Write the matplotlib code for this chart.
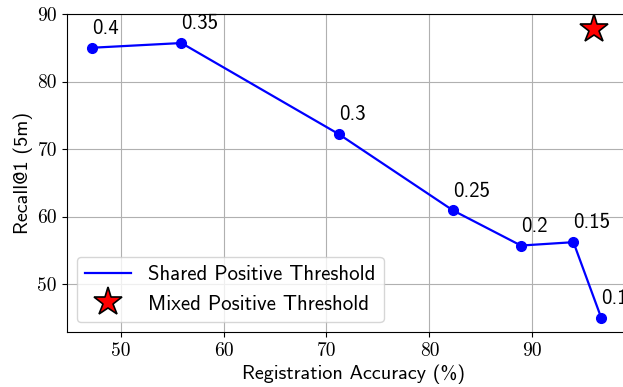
import matplotlib
matplotlib.use("Agg")
import matplotlib.pyplot as plt
from matplotlib.lines import Line2D

reg_acc = [47.2, 55.9, 71.2, 82.3, 88.9, 94.0, 96.7]
recall = [85.0, 85.7, 72.2, 60.9, 55.7, 56.2, 45.0]
thresholds = ["0.4", "0.35", "0.3", "0.25", "0.2", "0.15", "0.1"]
mixed_acc = [96.0]
mixed_recall = [87.8]

fig = plt.figure(figsize=(6.23, 3.87), dpi=100)
ax = fig.add_axes([66.7/623, 54.7/387, (640 - 66.7)/623, 318.3/387])

ax.plot(reg_acc, recall, color="blue", marker="o", markersize=7, linewidth=1.6, zorder=3)
ax.plot(mixed_acc, mixed_recall, linestyle="none", marker="*", markersize=21,
        markerfacecolor="red", markeredgecolor="black", markeredgewidth=1.2, zorder=4)

for x, y, t in zip(reg_acc, recall, thresholds):
    ax.annotate(t, (x, y), xytext=(0, 7), textcoords="offset points",
                ha="left", va="bottom", fontsize=15, family="cmss10")

ax.set_xlim(44.75, 100.47)
ax.set_ylim(42.85, 90.0)
ax.set_xticks([50, 60, 70, 80, 90])
ax.set_yticks([50, 60, 70, 80, 90])
ax.grid(True, color="#b0b0b0", linewidth=0.8)
ax.set_axisbelow(True)
ax.spines["right"].set_visible(False)

for lab in ax.get_xticklabels() + ax.get_yticklabels():
    lab.set_family("cmr10")
    lab.set_fontsize(14)

ax.set_xlabel("Registration Accuracy (%)", family="cmss10", fontsize=14.5, labelpad=3)
ax.set_ylabel("Recall@1 (5m)", family="cmss10", fontsize=14.5, labelpad=3)

handles = [
    Line2D([], [], color="blue", linewidth=1.6),
    Line2D([], [], linestyle="none", marker="*", markersize=21,
           markerfacecolor="red", markeredgecolor="black", markeredgewidth=1.2),
]
labels = ["Shared Positive Threshold", "Mixed Positive Threshold"]
ax.legend(handles, labels, loc="lower left", prop={"family": "cmss10", "size": 15},
          borderaxespad=0.5, handlelength=2.2)

fig.savefig("out.png", dpi=100)
